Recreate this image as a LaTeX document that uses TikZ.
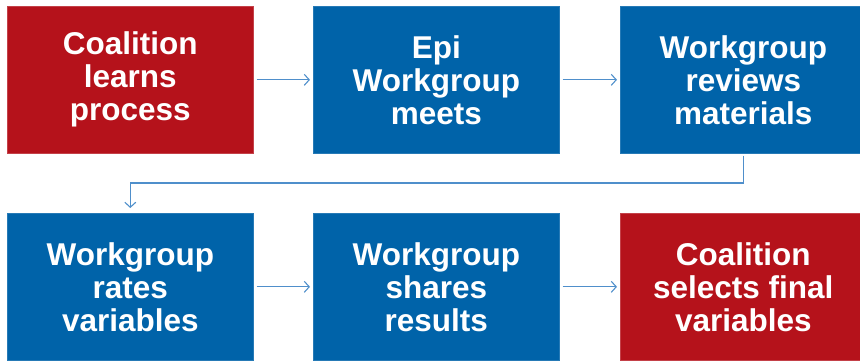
\documentclass[tikz,border=0pt]{standalone}
\usepackage{fontspec}
\setmainfont{Liberation Sans}
\usetikzlibrary{arrows.meta}
\definecolor{boxred}{HTML}{B5121B}
\definecolor{boxblue}{HTML}{0063A9}
\definecolor{arrowblue}{HTML}{4F8FCB}
\tikzset{
  stepbox/.style={rectangle, minimum width=246pt, minimum height=147pt, inner sep=0pt,
    anchor=north west, text=white, align=center,
    font=\bfseries\fontsize{31.5}{33}\selectfont},
  redbox/.style={stepbox, fill=boxred, draw=boxred!80!white, line width=0.6pt},
  bluebox/.style={stepbox, fill=boxblue, draw=boxblue!85!white, line width=0.6pt},
  flow/.style={draw=arrowblue, line width=1.1pt, -{Straight Barb[length=5pt,width=11pt,line width=1.1pt]}}
}
\begin{document}
\begin{tikzpicture}[x=1pt,y=-1pt]
\useasboundingbox (0,0) rectangle (860,360);
\clip (0,0) rectangle (860,360);
\node[redbox]  (b1) at (7,6)   {Coalition\\learns\\process};
\node[bluebox] (b2) at (313,6) {Epi\\Workgroup\\meets};
\node[bluebox] (b3) at (620,6) {Workgroup\\reviews\\materials};
\node[bluebox] (b4) at (7,213)   {Workgroup\\rates\\variables};
\node[bluebox] (b5) at (313,213) {Workgroup\\shares\\results};
\node[redbox]  (b6) at (620,213) {Coalition\\selects final\\variables};
\coordinate (elbow) at (0,183);
\draw[flow, shorten <=3pt, shorten >=3pt] (b1.east) -- (b2.west);
\draw[flow, shorten <=3pt, shorten >=3pt] (b2.east) -- (b3.west);
\draw[flow, shorten <=3pt, shorten >=3pt] (b4.east) -- (b5.west);
\draw[flow, shorten <=3pt, shorten >=3pt] (b5.east) -- (b6.west);
\draw[flow, shorten <=2pt, shorten >=5pt] (b3.south) -- (b3.south |- elbow) -- (b4.north |- elbow) -- (b4.north);
\end{tikzpicture}
\end{document}
